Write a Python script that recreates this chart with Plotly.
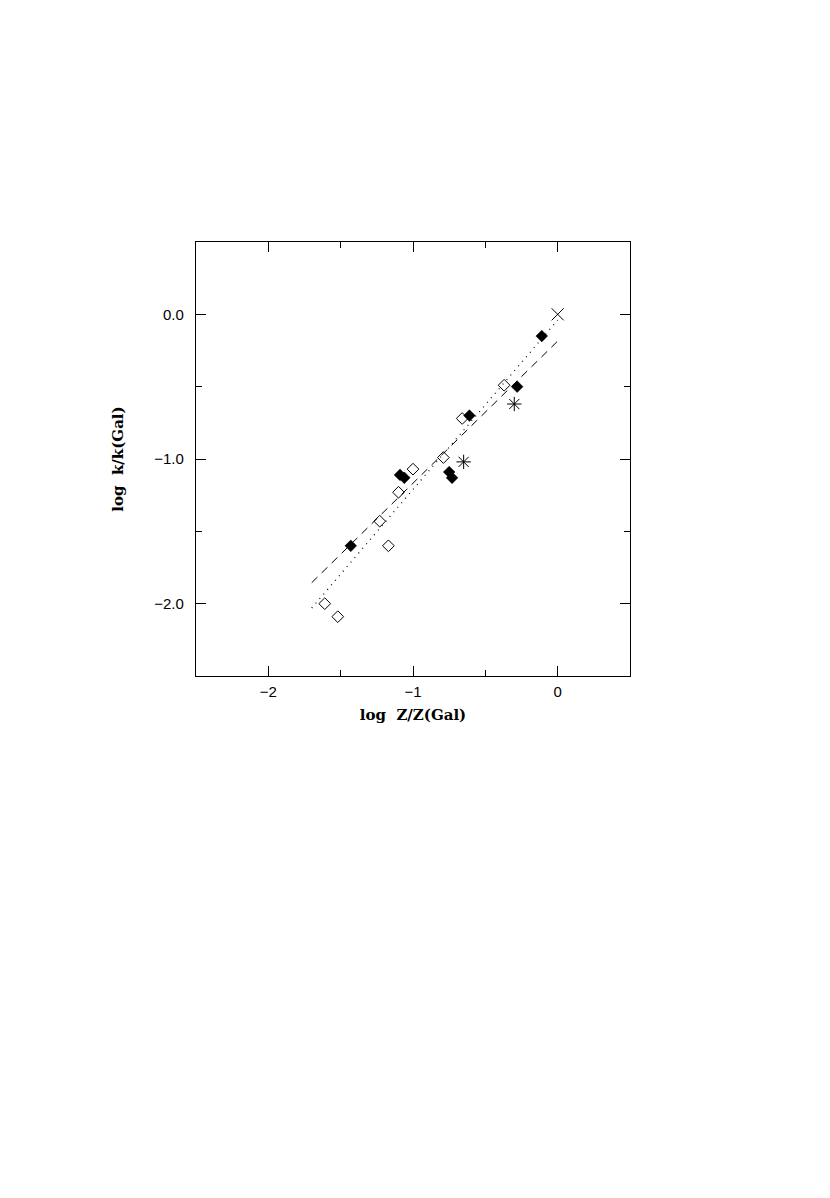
import plotly.graph_objects as go

# Data
open_x = [-0.37, -0.66, -0.79, -1.00, -1.10, -1.23, -1.17, -1.61, -1.52]
open_y = [-0.49, -0.72, -0.99, -1.07, -1.23, -1.43, -1.60, -2.00, -2.09]

filled_x = [-0.11, -0.28, -0.61, -0.75, -0.73, -1.09, -1.06, -1.43]
filled_y = [-0.15, -0.50, -0.70, -1.09, -1.13, -1.11, -1.13, -1.60]

star_x = [-0.30, -0.65]
star_y = [-0.62, -1.02]

cross_x = [0.0]
cross_y = [0.0]

dash_x = [-1.70, -0.005]
dash_y = [-1.855, -0.19]

dot_x = [-1.70, 0.0]
dot_y = [-2.03, -0.04]

x_ticks = [-2, -1, 0]
x_ticklabels = ["\u22122", "\u22121", "0"]
y_ticks = [0.0, -1.0, -2.0]
y_ticklabels = ["0.0", "\u22121.0", "\u22122.0"]

fig = go.Figure()
fig.add_trace(go.Scatter(x=dash_x, y=dash_y, mode="lines",
                         line=dict(color="black", width=1, dash="8px,6px"),
                         showlegend=False, hoverinfo="skip"))
fig.add_trace(go.Scatter(x=dot_x, y=dot_y, mode="lines",
                         line=dict(color="black", width=1.2, dash="1px,5px"),
                         showlegend=False, hoverinfo="skip"))
fig.add_trace(go.Scatter(x=open_x, y=open_y, mode="markers",
                         marker=dict(symbol="diamond-open", size=9, color="black",
                                     line=dict(width=1, color="black")),
                         showlegend=False))
fig.add_trace(go.Scatter(x=filled_x, y=filled_y, mode="markers",
                         marker=dict(symbol="diamond", size=9, color="black",
                                     line=dict(width=0.5, color="black")),
                         showlegend=False))
fig.add_trace(go.Scatter(x=star_x, y=star_y, mode="markers",
                         marker=dict(symbol="asterisk-open", size=12, color="black",
                                     line=dict(width=1, color="black")),
                         showlegend=False))
fig.add_trace(go.Scatter(x=cross_x, y=cross_y, mode="markers",
                         marker=dict(symbol="x-thin-open", size=12, color="black",
                                     line=dict(width=1, color="black")),
                         showlegend=False))

axis_common = dict(
    showgrid=False, zeroline=False, showline=True, linecolor="black", linewidth=1.2,
    mirror="ticks", ticks="inside", ticklen=10, tickwidth=1.2, tickcolor="black",
    tickfont=dict(family="Liberation Sans, Arial, sans-serif", size=15, color="black",
                  weight=500),
)

title_font = dict(family="DejaVu Serif, serif", size=15, color="black", weight="bold")

fig.update_xaxes(range=[-2.5, 0.5], tickvals=x_ticks, ticktext=x_ticklabels,
                 minor=dict(dtick=0.5, tick0=0, ticklen=6, ticks="inside",
                            tickcolor="black", tickwidth=1.2),
                 ticklabelstandoff=2,
                 title=dict(text="log  Z/Z(Gal)", standoff=10, font=title_font),
                 **axis_common)
fig.update_yaxes(range=[-2.5, 0.5], tickvals=y_ticks, ticktext=y_ticklabels,
                 minor=dict(dtick=0.5, tick0=0, ticklen=6, ticks="inside",
                            tickcolor="black", tickwidth=1.2),
                 ticklabelstandoff=8,
                 title=dict(text="log  k/k(Gal)", standoff=27, font=title_font),
                 **axis_common)

fig.update_layout(
    width=830, height=1198,
    margin=dict(l=188, r=208, t=234, b=530, pad=0),
    plot_bgcolor="white", paper_bgcolor="white",
    showlegend=False,
)

fig.write_html("out.html")
